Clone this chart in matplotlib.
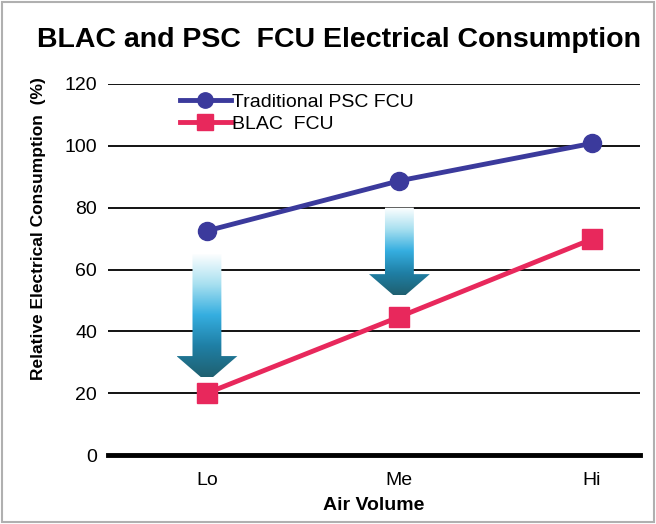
import matplotlib
matplotlib.use("Agg")
import matplotlib.pyplot as plt
import numpy as np
from matplotlib.colors import LinearSegmentedColormap
from matplotlib.patches import Polygon, Rectangle

plt.rcParams['font.family'] = ['Liberation Sans', 'DejaVu Sans']

categories = ["Lo", "Me", "Hi"]
psc_values = [72.5, 88.7, 100.8]
blac_values = [20.0, 44.7, 69.8]
yticks = [0, 20, 40, 60, 80, 100, 120]
# arrows: (category index, top value, head-base value, tip value)
arrows = [(0, 65, 32, 23.5), (1, 80, 58.5, 50)]

fig = plt.figure(figsize=(6.56, 5.24), dpi=100)
fig.patches.append(Rectangle((0.003, 0.003), 0.994, 0.994, transform=fig.transFigure,
                             fill=False, edgecolor='#b0b0b0', linewidth=1.5))
ax = fig.add_axes([108/656, 1-455/524, (640-108)/656, (455-84)/524])

x = np.arange(len(categories))

for s in ax.spines.values():
    s.set_visible(False)
for t in yticks[1:]:
    ax.axhline(t, color='black', lw=1.3, zorder=1)
ax.axhline(0, color='black', lw=3.5, zorder=1, clip_on=False)

# gradient arrows
cmap = LinearSegmentedColormap.from_list('arr', ['#ffffff', '#a8e0f0', '#35aee0', '#1f7fa5', '#1f6070'])
for ci, top, base, tip in arrows:
    sw = 0.075
    hw = 0.158
    verts = [(ci - sw, top), (ci + sw, top), (ci + sw, base), (ci + hw, base),
             (ci, tip), (ci - hw, base), (ci - sw, base)]
    poly = Polygon(verts, closed=True, facecolor='none', edgecolor='none')
    ax.add_patch(poly)
    grad = np.linspace(0, 1, 256).reshape(-1, 1)
    im = ax.imshow(grad, cmap=cmap, aspect='auto', extent=(ci - hw, ci + hw, tip + (base - tip) * 0.2, top),
                   origin='upper', zorder=2, interpolation='bilinear')
    im.set_clip_path(poly)
ax.set_xlim(-0.514, 2.25)
ax.set_ylim(0, 120)

ax.plot(x, psc_values, color='#3b3a9c', lw=3.5, marker='o', ms=13, zorder=4,
        label='Traditional PSC FCU', clip_on=False)
ax.plot(x, blac_values, color='#e8285c', lw=3.5, marker='s', ms=14, zorder=4,
        label='BLAC  FCU', clip_on=False)

ax.set_xticks(x)
ax.set_xticklabels(categories, fontsize=14)
ax.set_yticks(yticks)
ax.set_yticklabels([str(v) for v in yticks], fontsize=14)
ax.tick_params(axis='both', length=0)
ax.tick_params(axis='x', pad=12)
ax.tick_params(axis='y', pad=8)
ax.set_xlabel('Air Volume', fontsize=14, fontweight='bold', labelpad=6)
ax.set_ylabel('Relative Electrical Consumption  (%)', fontsize=12.5, fontweight='bold')
ax.yaxis.set_label_coords((46 - 108) / 532, (455 - 229) / 371)

fig.text(0.517, 1-40/524, 'BLAC and PSC  FCU Electrical Consumption', ha='center', va='center',
         fontsize=20.5, fontweight='bold')

ax.legend(loc='upper left', bbox_to_anchor=(180/656, 1-93/524), bbox_transform=fig.transFigure,
          frameon=False, fontsize=14, handlelength=2.6, handletextpad=0.1, labelspacing=0.25,
          borderpad=0, borderaxespad=0, markerscale=0.85)

fig.savefig('out.png', dpi=100)
